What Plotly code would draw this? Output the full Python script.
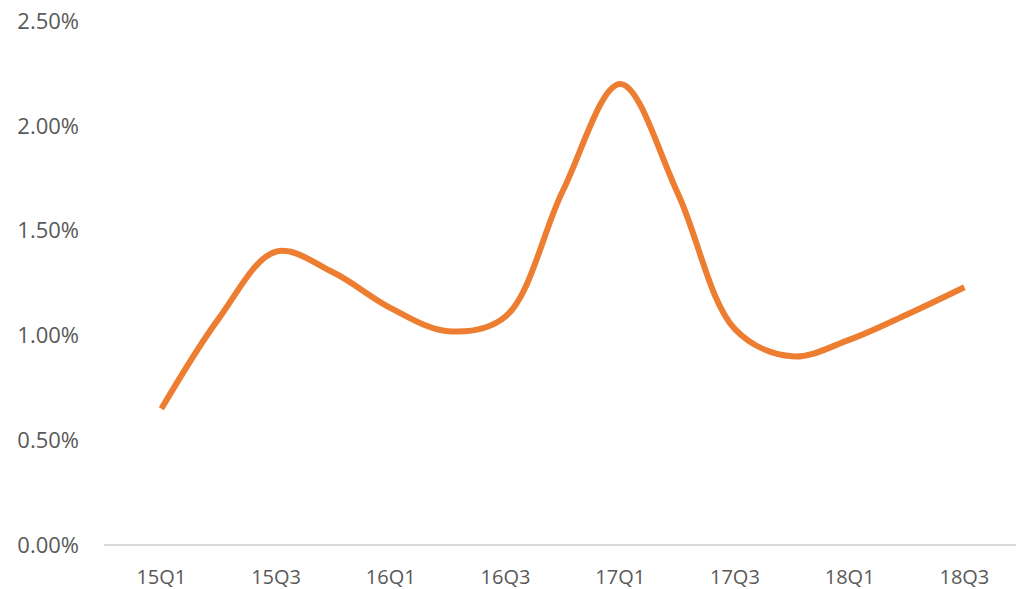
import plotly.graph_objects as go

# Quarterly series, 15Q1 through 18Q3
quarters = ["15Q1", "15Q2", "15Q3", "15Q4", "16Q1", "16Q2", "16Q3", "16Q4",
            "17Q1", "17Q2", "17Q3", "17Q4", "18Q1", "18Q2", "18Q3"]
rates = [0.0065, 0.0108, 0.0140, 0.0130, 0.0113, 0.0102, 0.0109, 0.0169,
         0.0220, 0.0168, 0.0103, 0.0090, 0.0098, 0.0110, 0.0123]

# Only every other quarter is labelled on the axis
tick_labels = quarters[::2]
tick_pos = list(range(0, len(quarters), 2))

x_idx = list(range(len(quarters)))

fig = go.Figure()
fig.add_trace(go.Scatter(
    x=x_idx,
    y=rates,
    mode="lines",
    line=dict(color="#ED7D31", width=6, shape="spline", smoothing=1.0),
    hoverinfo="skip",
    showlegend=False,
))

fig.update_layout(
    width=1016,
    height=589,
    margin=dict(l=104, r=0, t=21, b=44),
    paper_bgcolor="white",
    plot_bgcolor="white",
    xaxis=dict(
        range=[-1, 14.9],
        tickmode="array",
        tickvals=tick_pos,
        ticktext=tick_labels,
        showgrid=False,
        zeroline=False,
        showline=False,
        ticks="",
        ticklabelstandoff=18,
        tickfont=dict(family="Liberation Sans Narrow, Open Sans, sans-serif", size=20, color="#595959"),
    ),
    yaxis=dict(
        range=[0, 0.025],
        tickmode="array",
        tickvals=[0, 0.005, 0.01, 0.015, 0.02, 0.025],
        tickformat=".2%",
        showgrid=False,
        zeroline=True,
        zerolinecolor="#D9D9D9",
        zerolinewidth=2,
        showline=False,
        ticks="",
        ticklabelstandoff=24,
        tickfont=dict(family="Open Sans, sans-serif", size=22, color="#595959"),
    ),
)

fig.write_html("out.html")
